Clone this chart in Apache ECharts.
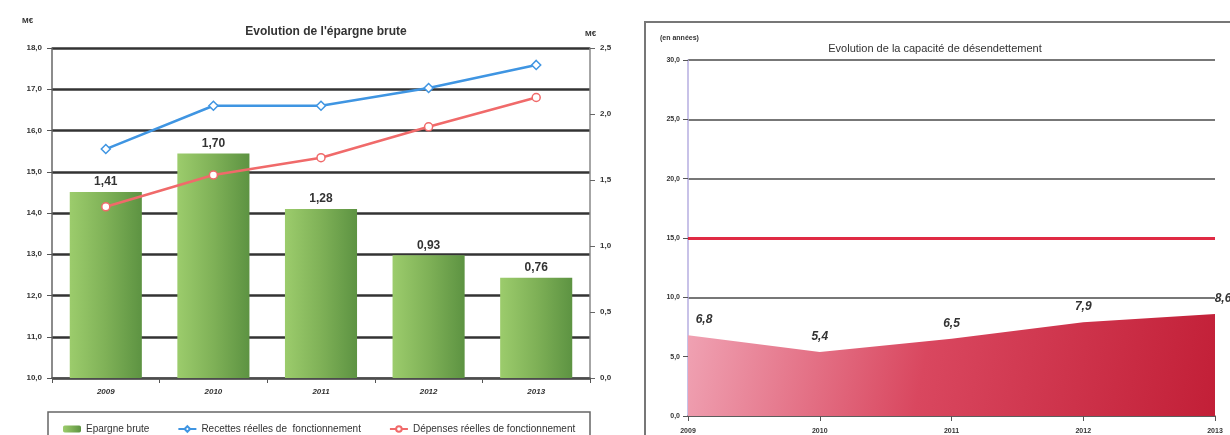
<!DOCTYPE html>
<html>
<head>
<meta charset="utf-8">
<script src="https://cdn.jsdelivr.net/npm/echarts@6/dist/echarts.min.js"></script>
<style>
html,body{margin:0;padding:0;background:#fff;}
#c{width:1230px;height:435px;}
</style>
</head>
<body>
<div id="c"></div>
<script>
const categories = ['2009', '2010', '2011', '2012', '2013'];
const epargneBrute = [1.41, 1.70, 1.28, 0.93, 0.76];
const recettes = [15.55, 16.6, 16.6, 17.03, 17.59];
const depenses = [14.15, 14.92, 15.34, 16.09, 16.8];
const capacite = [6.8, 5.4, 6.5, 7.9, 8.6];
const seuil = 15;
const leftTicks = {min: 10, max: 18, interval: 1};
const rightTicks = {min: 0, max: 2.5, interval: 0.5};
const capTicks = {min: 0, max: 30, interval: 5};

const fr1 = v => Number(v).toFixed(1).replace('.', ',');
const fr2 = v => Number(v).toFixed(2).replace('.', ',');
const FONT = 'Liberation Sans';

// label nudges for the area chart (first point sits on the axis edge)
const capData = capacite.map((v, i) => {
  const item = {value: v};
  if (i === 0) item.label = {offset: [16, 0]};
  if (i === capacite.length - 1) item.label = {offset: [8, 0]};
  return item;
});

const chart = echarts.init(document.getElementById('c'), null, {renderer: 'canvas'});
chart.setOption({
  backgroundColor: '#fff',
  animation: false,
  textStyle: {fontFamily: FONT},
  title: [
    {text: "Evolution de l'épargne brute", left: 321, top: 21, textAlign: 'center',
     textStyle: {fontSize: 12, fontWeight: 'bold', color: '#333', fontFamily: FONT}},
    {text: 'Evolution de la capacité de désendettement', left: 930, top: 38, textAlign: 'center',
     textStyle: {fontSize: 11, fontWeight: 'normal', color: '#333', fontFamily: FONT}}
  ],
  graphic: [
    {type: 'text', left: 22, top: 17, style: {text: 'M€', fontSize: 8, fontWeight: 'bold', fill: '#333', fontFamily: FONT}},
    {type: 'text', left: 585, top: 30, style: {text: 'M€', fontSize: 8, fontWeight: 'bold', fill: '#333', fontFamily: FONT}},
    {type: 'rect', shape: {x: 48, y: 412, width: 542, height: 40}, style: {fill: 'none', stroke: '#666', lineWidth: 1.5}},
    {type: 'rect', shape: {x: 645, y: 22, width: 620, height: 430}, style: {fill: 'none', stroke: '#777', lineWidth: 2}},
    {type: 'text', left: 660, top: 35, style: {text: '(en années)', fontSize: 7, fontWeight: 'bold', fill: '#333', fontFamily: FONT}}
  ],
  legend: {
    data: ['Epargne brute', 'Recettes réelles de  fonctionnement', 'Dépenses réelles de fonctionnement'],
    left: 58, top: 419, itemGap: 28, itemWidth: 18, itemHeight: 7,
    textStyle: {fontSize: 10, color: '#333', fontFamily: FONT}
  },
  grid: [
    {left: 52, right: 640, top: 48, bottom: 57},
    {left: 688, right: 15, top: 60, bottom: 19}
  ],
  xAxis: [
    {type: 'category', gridIndex: 0, data: categories,
     axisLine: {lineStyle: {color: '#555', width: 1.5}},
     axisTick: {show: true, lineStyle: {color: '#555'}},
     axisLabel: {fontSize: 8, fontStyle: 'italic', fontWeight: 'bold', color: '#333', margin: 10}},
    {type: 'category', gridIndex: 1, data: categories, boundaryGap: false,
     axisLine: {lineStyle: {color: '#555', width: 1.5}},
     axisTick: {show: true, lineStyle: {color: '#555'}},
     axisLabel: {fontSize: 7, fontWeight: 'bold', color: '#333', margin: 12}}
  ],
  yAxis: [
    {type: 'value', gridIndex: 0, min: leftTicks.min, max: leftTicks.max, interval: leftTicks.interval,
     axisLine: {show: true, lineStyle: {color: '#666', width: 1.5}},
     axisTick: {show: true, lineStyle: {color: '#555'}},
     axisLabel: {formatter: fr1, fontSize: 8, fontWeight: 'bold', color: '#333', margin: 10},
     splitLine: {lineStyle: {color: '#333', width: 2.5}}},
    {type: 'value', gridIndex: 0, position: 'right', min: rightTicks.min, max: rightTicks.max, interval: rightTicks.interval,
     axisLine: {show: true, lineStyle: {color: '#888', width: 1.5}},
     axisTick: {show: true, lineStyle: {color: '#666'}},
     axisLabel: {formatter: fr1, fontSize: 8, fontWeight: 'bold', color: '#333', margin: 10},
     splitLine: {show: false}},
    {type: 'value', gridIndex: 1, min: capTicks.min, max: capTicks.max, interval: capTicks.interval,
     axisLine: {show: true, lineStyle: {color: '#b6aee0', width: 1.5}},
     axisTick: {show: true, lineStyle: {color: '#555'}},
     axisLabel: {formatter: fr1, fontSize: 7, fontWeight: 'bold', color: '#333', margin: 8},
     splitLine: {lineStyle: {color: '#777', width: 2}}}
  ],
  series: [
    {name: 'Epargne brute', type: 'bar', xAxisIndex: 0, yAxisIndex: 1, data: epargneBrute, barWidth: '67%',
     itemStyle: {color: new echarts.graphic.LinearGradient(0, 0, 1, 0, [
       {offset: 0, color: '#9ccc6c'}, {offset: 0.5, color: '#7fb157'}, {offset: 1, color: '#5d9342'}])},
     label: {show: true, position: 'top', formatter: p => fr2(p.value), fontSize: 12, fontWeight: 'bold', color: '#333', distance: 4},
     z: 2},
    {name: 'Recettes réelles de  fonctionnement', type: 'line', xAxisIndex: 0, yAxisIndex: 0, data: recettes,
     symbol: 'diamond', symbolSize: 9, lineStyle: {color: '#3f95e2', width: 2.5},
     itemStyle: {color: '#fff', borderColor: '#3f95e2', borderWidth: 1.5}, z: 3},
    {name: 'Dépenses réelles de fonctionnement', type: 'line', xAxisIndex: 0, yAxisIndex: 0, data: depenses,
     symbol: 'circle', symbolSize: 8, lineStyle: {color: '#f06a6a', width: 2.5},
     itemStyle: {color: '#fff', borderColor: '#f06a6a', borderWidth: 1.5}, z: 3},
    {name: 'Capacité de désendettement', type: 'line', xAxisIndex: 1, yAxisIndex: 2, data: capData,
     symbol: 'circle', symbolSize: 1, showSymbol: true,
     itemStyle: {color: 'rgba(0,0,0,0)', borderWidth: 0},
     lineStyle: {width: 0},
     areaStyle: {opacity: 1, color: new echarts.graphic.LinearGradient(0, 0, 1, 1, [
       {offset: 0, color: '#f0a3b4'}, {offset: 0.45, color: '#d9475f'}, {offset: 1, color: '#c21f37'}])},
     label: {show: true, position: 'top', formatter: p => fr1(p.value), fontSize: 12, fontWeight: 'bold', fontStyle: 'italic', color: '#333', distance: 9},
     markLine: {silent: true, symbol: 'none', label: {show: false},
       lineStyle: {color: '#e02a44', width: 3, type: 'solid'}, data: [{yAxis: seuil}]},
     z: 2}
  ]
});
</script>
</body>
</html>
